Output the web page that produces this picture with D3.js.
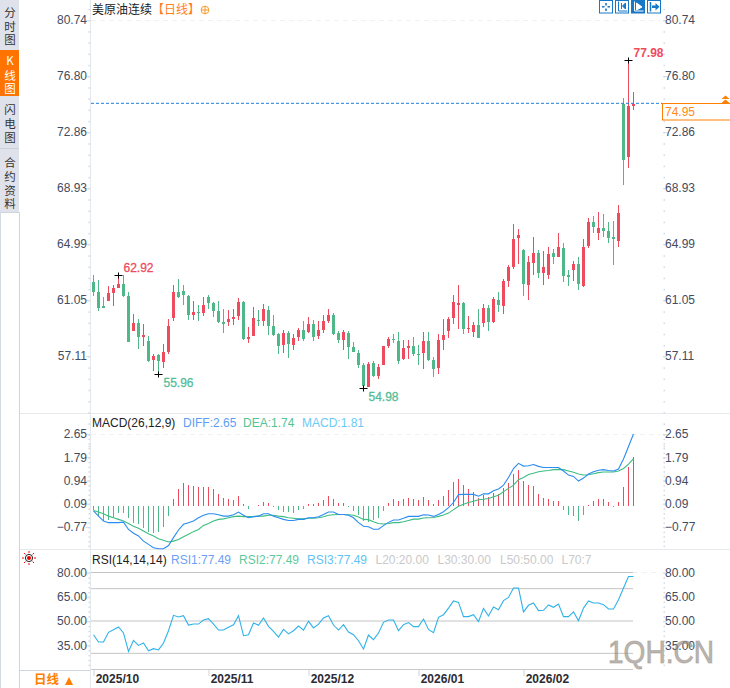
<!DOCTYPE html>
<html>
<head>
<meta charset="utf-8">
<style>
html, body { margin: 0; padding: 0; background: #fff; }
svg { display: block; font-family: "Liberation Sans", "Noto Sans CJK SC", sans-serif; font-size: 12px; }
</style>
<script src="https://cdnjs.cloudflare.com/ajax/libs/d3/7.8.5/d3.min.js"></script>
</head>
<body>
<script>
var W = 730, H = 688;

// daily candles
var open = [62.31,61.61,60.63,60.98,61.54,61.89,62.17,61.33,58.87,59.43,
  58.45,58.17,56.83,57.18,56.69,57.39,59.78,61.61,61.68,61.33,
  59.99,60.20,60.13,61.26,60.84,60.27,59.50,59.50,59.71,59.92,
  60.91,58.31,58.52,59.64,59.57,60.35,59.22,58.66,57.89,58.73,
  57.89,58.45,58.94,58.80,59.36,58.52,58.94,59.57,59.99,58.73,
  58.24,58.73,57.75,57.32,56.48,54.94,56.62,55.71,56.48,57.82,
  58.31,58.17,56.90,57.68,57.82,57.25,57.32,58.17,56.83,56.27,
  58.24,58.87,59.78,60.70,60.84,59.01,58.80,59.29,59.43,60.49,
  59.50,61.05,60.63,62.39,63.37,65.41,64.56,62.10,63.65,64.35,
  62.95,62.81,64.35,64.07,64.70,62.81,63.16,63.58,62.03,64.84,
  66.53,65.76,66.11,65.90,65.48,65.20,74.83,71.10,74.69];
var close = [61.61,60.49,60.49,61.54,61.89,62.17,61.33,58.10,59.43,58.45,
  58.59,56.76,57.11,56.76,57.39,59.22,61.61,61.26,61.40,59.99,
  60.20,60.13,60.70,60.84,60.27,59.50,59.36,59.71,59.85,60.91,
  58.31,58.45,59.78,59.57,60.42,59.22,58.59,57.82,58.73,57.96,
  58.38,58.94,58.31,59.36,58.45,58.94,59.57,59.99,58.66,58.24,
  58.80,57.75,57.39,56.48,55.01,56.55,55.71,56.34,57.82,58.31,
  58.24,56.76,57.68,57.82,57.25,57.18,58.17,56.83,56.20,58.24,
  58.59,59.71,60.91,60.84,59.01,59.08,59.29,58.38,60.49,59.50,
  61.12,60.70,62.39,63.37,65.34,65.62,62.17,63.72,64.35,62.95,
  63.37,64.28,64.07,64.77,62.74,62.67,63.58,62.17,64.77,66.53,
  66.18,66.11,65.90,65.41,65.34,67.17,70.89,74.69,74.83];
var high = [62.81,62.46,61.26,62.03,62.10,62.81,62.81,61.61,60.06,59.71,
  59.36,58.52,57.25,57.25,57.96,59.71,62.10,62.53,62.10,61.40,
  60.98,60.70,61.26,61.40,60.91,60.98,60.42,60.35,60.42,61.19,
  60.98,59.15,60.56,60.35,60.77,60.63,59.99,58.73,58.94,58.87,
  58.66,59.08,59.57,59.85,59.64,59.57,59.99,60.42,60.13,58.87,
  58.94,58.87,58.10,57.53,56.62,56.69,56.76,56.55,57.82,58.45,
  58.66,58.80,58.24,58.24,58.45,57.89,58.80,58.80,57.04,58.66,
  59.71,59.85,61.40,62.10,60.91,59.92,59.50,60.42,60.77,60.70,
  61.26,61.61,62.53,63.51,66.39,66.04,64.63,64.14,65.48,64.56,
  64.49,64.77,64.63,65.76,65.06,63.16,63.79,64.07,65.34,66.82,
  66.96,67.24,67.10,66.53,66.60,67.73,75.26,77.93,75.68];
var low = [61.33,60.27,60.49,60.98,60.63,61.89,61.26,58.10,58.87,57.61,
  57.82,56.69,56.06,55.85,56.27,57.25,59.57,61.19,60.70,59.64,
  59.64,59.57,59.92,60.42,59.85,59.43,58.73,59.22,59.29,59.64,
  58.24,58.03,58.52,59.22,59.22,58.59,58.52,57.25,57.32,56.97,
  57.53,58.17,58.17,58.73,58.17,58.31,58.73,59.43,58.59,58.03,
  57.53,56.90,57.39,56.27,54.87,54.94,55.64,55.50,56.48,57.68,
  58.03,56.55,56.83,56.90,57.11,56.48,56.20,56.76,55.64,55.85,
  57.53,58.38,59.36,59.01,58.66,58.73,58.45,58.38,59.15,58.87,
  59.43,60.20,60.06,61.96,63.23,63.58,61.33,61.05,62.81,62.60,
  62.10,62.53,63.58,64.07,62.31,62.03,62.39,61.75,61.96,64.70,
  65.76,65.27,65.48,65.06,63.51,64.77,69.12,70.33,74.41];

var diff = [-.18,-.37,-.55,-.61,-.61,-.61,-.59,-.86,-1.00,-1.10,
  -1.29,-1.41,-1.53,-1.57,-1.57,-1.45,-1.16,-.88,-.67,-.61,
  -.55,-.43,-.34,-.28,-.28,-.32,-.37,-.37,-.32,-.22,
  -.34,-.43,-.39,-.37,-.28,-.28,-.37,-.43,-.49,-.53,
  -.53,-.49,-.49,-.43,-.43,-.39,-.31,-.22,-.22,-.31,
  -.31,-.34,-.43,-.61,-.74,-.76,-.85,-.85,-.72,-.60,
  -.51,-.51,-.45,-.38,-.38,-.38,-.32,-.33,-.38,-.31,
  -.21,-.06,.13,.42,.43,.43,.43,.36,.45,.45,
  .56,.63,.77,1.05,1.38,1.57,1.47,1.48,1.53,1.46,
  1.42,1.42,1.42,1.42,1.29,1.14,1.09,.92,1.03,1.18,
  1.26,1.32,1.34,1.31,1.29,1.36,1.73,2.19,2.65];
var dea = [-.16,-.22,-.28,-.37,-.43,-.49,-.55,-.64,-.74,-.82,
  -.92,-1.02,-1.10,-1.20,-1.26,-1.32,-1.29,-1.23,-1.13,-1.04,
  -.94,-.86,-.71,-.64,-.55,-.49,-.47,-.43,-.39,-.37,
  -.39,-.39,-.39,-.37,-.37,-.34,-.34,-.37,-.39,-.43,
  -.45,-.47,-.47,-.45,-.45,-.43,-.39,-.34,-.32,-.31,
  -.31,-.32,-.34,-.40,-.49,-.50,-.58,-.64,-.66,-.64,
  -.61,-.61,-.58,-.53,-.48,-.48,-.44,-.43,-.42,-.38,
  -.33,-.26,-.13,-.01,.07,.13,.18,.23,.25,.28,
  .34,.40,.53,.65,.77,.97,1.05,1.16,1.21,1.26,
  1.29,1.31,1.34,1.35,1.34,1.29,1.24,1.18,1.14,1.15,
  1.19,1.23,1.25,1.25,1.25,1.29,1.38,1.54,1.74];
var macd = [-.15,-.37,-.55,-.53,-.39,-.27,-.27,-.43,-.61,-.67,
  -.80,-.96,-.98,-.96,-.76,-.37,.25,.61,.83,.76,
  .72,.70,.70,.70,.64,.43,.29,.25,.23,.36,
  .06,-.12,.02,.04,.16,.12,-.02,-.16,-.21,-.23,
  -.26,-.13,-.11,.06,.06,.10,.21,.36,.26,.13,
  .12,-.04,-.18,-.34,-.55,-.60,-.51,-.45,-.17,.11,
  .26,.18,.26,.29,.26,.22,.33,.22,.07,.22,
  .37,.59,.88,.99,.77,.62,.51,.29,.40,.33,
  .48,.44,.66,.85,1.18,1.32,.92,.77,.74,.44,
  .29,.26,.18,.18,-.15,-.33,-.37,-.55,-.33,.04,
  .18,.26,.26,.15,-.03,.15,.70,1.42,1.81];
var rsi = [41.5,37.0,37.0,43.0,44.6,46.3,42.6,31.2,38.0,34.9,
  36.4,31.6,32.9,32.1,36.4,44.0,53.5,52.5,53.3,47.5,
  48.1,48.1,50.6,51.4,48.1,44.4,44.4,46.1,47.7,53.3,
  40.9,41.5,48.8,47.3,51.9,46.7,43.6,40.1,44.8,42.0,
  44.0,46.9,44.4,49.8,45.7,48.1,51.9,53.3,47.5,44.4,
  47.7,43.2,41.5,37.8,32.7,41.3,38.5,42.6,49.2,50.6,
  50.6,44.0,47.7,49.0,46.5,46.5,51.2,44.8,42.8,52.3,
  53.9,58.0,62.4,61.5,52.7,52.7,53.9,49.6,57.8,53.1,
  58.7,57.0,62.6,64.6,70.4,70.4,55.6,59.7,61.1,56.4,
  56.6,59.9,58.5,60.5,52.7,52.7,55.6,50.2,58.0,62.4,
  61.1,61.1,60.1,57.4,57.4,63.2,70.4,77.49,77.49];

var priceTicks = [80.74, 76.80, 72.86, 68.93, 64.99, 61.05, 57.11];
var macdTicks = [2.65, 1.79, 0.94, 0.09, -0.77];
var rsiTicks = [80, 65, 50, 35];
var rsiLevels = [80, 70, 50, 30];
var dateLabels = ["2025/10", "2025/11", "2025/12", "2026/01", "2026/02"];
var dateIndex = [0, 23, 43, 65, 86];
var markIndex = [5, 13, 54, 107];
var markLabels = ["62.92", "55.96", "54.98", "77.98"];
var lastPrice = 74.88;
var lastLabel = "74.95";

var RED = "#ee4b5e", GREEN = "#4fb788", GRID = "#f0f1f1", LINE = "#e3e8ee", LABEL = "#444b60";

var svg = d3.select("body").append("svg").attr("width", W).attr("height", H);

var x = d3.scaleLinear().domain([0, 108]).range([93.5, 633.5]);
var yPrice = d3.scaleLinear().domain([80.74, 57.11]).range([20, 356]);
var yMacd = d3.scaleLinear().domain([2.65, -0.77]).range([434, 527]);
var yRsi = d3.scaleLinear().domain([80, 20]).range([572.5, 669.5]);

// side menu
svg.append("rect").attr("width", 19).attr("height", 212).attr("fill", "#e0e2eb");
svg.append("rect").attr("y", 50).attr("width", 19).attr("height", 46).attr("fill", "#ff7300");
svg.append("rect").attr("y", 148).attr("width", 19).attr("height", 1).attr("fill", "#c9d0d8");
svg.append("rect").attr("y", 212).attr("width", 1).attr("height", H - 212).attr("fill", "#d3dae2");
svg.append("rect").attr("x", 19).attr("y", 212).attr("width", 1).attr("height", H - 212).attr("fill", "#cdd5dd");
svg.append("rect").attr("y", 212).attr("width", 19).attr("height", 1).attr("fill", "#cdd5dd");
svg.append("rect").attr("x", 20).attr("y", 670).attr("width", 70).attr("height", 1).attr("fill", "#cdd5dd");

var menu = [["分", 13], ["时", 27], ["图", 40], ["K", 61], ["线", 76], ["图", 89], ["闪", 110], ["电", 124], ["图", 138],
  ["合", 163], ["约", 177], ["资", 191], ["料", 204]];
svg.append("g").selectAll("text").data(menu).enter().append("text")
  .attr("x", 10).attr("y", function(d) { return d[1]; }).attr("dy", "0.36em")
  .attr("text-anchor", "middle").attr("font-size", 11.5)
  .attr("font-family", "'Noto Sans CJK SC', sans-serif")
  .attr("fill", function(d) { return d[1] > 50 && d[1] < 96 ? "#fff" : "#333"; })
  .text(function(d) { return d[0]; });

// frame lines
svg.append("rect").attr("x", 90).attr("width", 1).attr("height", H).attr("fill", LINE);
[414, 550].forEach(function(y) {
  svg.append("rect").attr("x", 20).attr("y", y - 1).attr("width", W - 20).attr("height", 1).attr("fill", "#e8e9ec");
});
svg.append("rect").attr("x", 91).attr("y", 669).attr("width", 542).attr("height", 1).attr("fill", "#c8c8c8");

function topDash(y, x2) {
  svg.append("line").attr("x1", 91).attr("x2", x2).attr("y1", y + 0.5).attr("y2", y + 0.5)
    .attr("stroke", GRID).attr("stroke-dasharray", "5,4");
}
topDash(20, 660);
topDash(434, 660);
svg.append("line").attr("x1", 633).attr("x2", 660).attr("y1", 572.5).attr("y2", 572.5)
  .attr("stroke", GRID).attr("stroke-dasharray", "5,4");

function styleAxis(g) {
  g.select(".domain").remove();
  g.selectAll(".tick line").attr("stroke", "#d6dee6");
  g.selectAll("text").attr("fill", LABEL).attr("font-size", 12).attr("font-family", "'Liberation Sans', sans-serif");
}

// left and right scales of the three panes
function paneAxes(scale, ticks, fmt) {
  svg.append("g").attr("transform", "translate(90,0)")
    .call(d3.axisLeft(scale).tickValues(ticks).tickFormat(fmt).tickSize(4).tickPadding(-1))
    .call(styleAxis);
  svg.append("g").attr("transform", "translate(663,0)")
    .call(d3.axisRight(scale).tickValues(ticks).tickFormat(fmt).tickSize(4).tickPadding(-2))
    .call(styleAxis);
}
var f2 = d3.format(".2f");
paneAxes(yPrice, priceTicks, f2);
paneAxes(yMacd, macdTicks, f2);
paneAxes(yRsi, rsiTicks, f2);

// small dots between the labels
function dots(scale, vals) {
  [88.5, 663.5].forEach(function(px) {
    svg.append("g").selectAll("rect").data(vals).enter().append("rect")
      .attr("x", px).attr("y", function(d) { return scale(d); })
      .attr("width", 1.5).attr("height", 1.5).attr("fill", "#d2dae2");
  });
}
var step = (priceTicks[0] - priceTicks[1]) / 5;
dots(yPrice, d3.range(priceTicks[0] + step, 50, -step));
dots(yMacd, d3.range(2.65, -1.6, -0.855 / 5));
dots(yRsi, d3.range(80, 20, -3));

// candles
var idx = d3.range(open.length);
var candles = svg.append("g").attr("shape-rendering", "crispEdges");
function color(i) { return close[i] >= open[i] ? RED : GREEN; }
candles.selectAll("line").data(idx).enter().append("line")
  .attr("x1", function(i) { return x(i); }).attr("x2", function(i) { return x(i); })
  .attr("y1", function(i) { return yPrice(high[i]); }).attr("y2", function(i) { return yPrice(low[i]); })
  .attr("stroke", color);
candles.selectAll("rect").data(idx).enter().append("rect")
  .attr("x", function(i) { return x(i) - 1.5; }).attr("width", 3)
  .attr("y", function(i) { return yPrice(Math.max(open[i], close[i])); })
  .attr("height", function(i) { return Math.max(1, Math.abs(yPrice(open[i]) - yPrice(close[i]))); })
  .attr("fill", color);

// last price line and tag
svg.append("line").attr("x1", 91).attr("x2", 662).attr("y1", yPrice(lastPrice)).attr("y2", yPrice(lastPrice))
  .attr("stroke", "#1d7fe0").attr("stroke-dasharray", "3,2");
svg.append("rect").attr("x", 662.5).attr("y", 103.5).attr("width", 69).attr("height", 16.5)
  .attr("fill", "#fff").attr("stroke", "#ff8000");
svg.append("text").attr("x", 665).attr("y", 116).attr("fill", "#ff8a14").attr("font-size", 12).text(lastLabel);
svg.append("path").attr("d", "M721.5,99L725.5,95.5L729.5,99ZM721.5,103L725.5,99.5L729.5,103Z").attr("fill", "#ff7f00");

// high / low marks
var marks = svg.append("g");
markIndex.forEach(function(i, k) {
  var up = k == 0 || k == 3;
  var val = up ? high[i] : low[i];
  var mx = x(i), my = Math.round(yPrice(val)) + 0.5;
  var col = up ? RED : "#55bd98";
  marks.append("path").attr("d", "M" + (mx - 4) + "," + my + "H" + (mx + 4) + "M" + mx + "," + (my - 3) + "V" + (my + 3))
    .attr("stroke", "#000").attr("fill", "none");
  marks.append("text").attr("x", mx + 5).attr("y", my + (up ? -4 : 12))
    .attr("fill", col).attr("font-weight", k == 3 ? "bold" : "normal")
    .attr("stroke", k == 3 ? "none" : col).attr("stroke-width", 0.3)
    .attr("font-size", 12).text(markLabels[k]);
});

// title row
svg.append("text").attr("x", 92).attr("y", 14).attr("font-size", 12).attr("fill", "#222")
  .attr("font-family", "'Noto Sans CJK SC', sans-serif").text("美原油连续");
svg.append("text").attr("x", 152).attr("y", 14).attr("font-size", 12).attr("fill", "#ff7f1e")
  .attr("font-family", "'Noto Sans CJK SC', sans-serif").text("【日线】");
svg.append("circle").attr("cx", 205).attr("cy", 10).attr("r", 3.8).attr("fill", "none").attr("stroke", "#f59a2e");
svg.append("path").attr("d", "M201,10H209M205,6V14").attr("stroke", "#f59a2e").attr("fill", "none");

// toolbar
var BLUE = "#1878c8";
[599.5, 615.5, 631.5, 647.5].forEach(function(bx, k) {
  var g = svg.append("g").attr("transform", "translate(" + bx + ",0.5)");
  g.append("rect").attr("width", 13).attr("height", 12.5).attr("stroke", BLUE).attr("fill", k == 2 ? BLUE : "#fff");
  var c = k == 2 ? "#fff" : BLUE;
  if (k == 0) {
    g.append("path").attr("d", "M6.5,2.5V5M6.5,8V10.5M2.5,6.3H5M8,6.3H10.5").attr("stroke", c).attr("stroke-width", 1.6);
  } else if (k == 3) {
    g.append("path").attr("d", "M3,1.5V11").attr("stroke", c).attr("stroke-width", 1.5);
    g.append("path").attr("d", "M4.5,5H8V2.5L12,6.3L8,10V7.5H4.5Z").attr("fill", c);
  } else {
    g.append("path").attr("d", "M3,1V10.5H12").attr("stroke", c).attr("fill", "none");
    g.append("path").attr("d", k == 1 ? "M6,2.5V8.5M7,5.5L10,2.5V8.5Z" : "M5,2.5L10.5,6.5L5,9.5Z").attr("fill", c).attr("stroke", c);
  }
});

// MACD pane
svg.append("g").attr("shape-rendering", "crispEdges").selectAll("line").data(idx).enter().append("line")
  .attr("x1", function(i) { return x(i); }).attr("x2", function(i) { return x(i); })
  .attr("y1", yMacd(0)).attr("y2", function(i) { return yMacd(macd[i]); })
  .attr("stroke", function(i) { return macd[i] >= 0 ? RED : GREEN; });
function drawLine(scale, vals, col) {
  var line = d3.line().x(function(d, i) { return x(i); }).y(function(d) { return scale(d); });
  svg.append("path").datum(vals).attr("d", line).attr("fill", "none").attr("stroke", col).attr("stroke-width", 1.1);
}
drawLine(yMacd, dea, "#3cbc80");
drawLine(yMacd, diff, "#2b8cf2");

function legend(y, items) {
  svg.append("g").selectAll("text").data(items).enter().append("text")
    .attr("x", function(d) { return d[1]; }).attr("y", y).attr("fill", function(d) { return d[2]; })
    .attr("font-size", 12).text(function(d) { return d[0]; });
}
legend(427, [["MACD(26,12,9)", 92, "#222"], ["DIFF:2.65", 183, "#5e9df5"], ["DEA:1.74", 243, "#52c391"], ["MACD:1.81", 302, "#6cc9f7"]]);

// RSI pane
svg.append("g").selectAll("line").data(rsiLevels).enter().append("line")
  .attr("x1", 91).attr("x2", 633)
  .attr("y1", function(d) { return yRsi(d); }).attr("y2", function(d) { return yRsi(d); })
  .attr("stroke", "#c4c4c4");
drawLine(yRsi, rsi, "#2fb2e8");
legend(564, [["RSI(14,14,14)", 92, "#222"], ["RSI1:77.49", 171, "#6d9ff7"], ["RSI2:77.49", 239, "#5fc99b"], ["RSI3:77.49", 307, "#5fc3f2"],
  ["L20:20.00", 375.5, "#c9c9c9"], ["L30:30.00", 437.5, "#c9c9c9"], ["L50:50.00", 500, "#c9c9c9"], ["L70:7", 561.5, "#c9c9c9"]]);

// sun icon
var sun = svg.append("g").attr("transform", "translate(29,558)");
sun.append("path").attr("d", "M0,-7V-5M0,5V7M-7,0H-5M5,0H7M-5,-5L-3.6,-3.6M5,-5L3.6,-3.6M-5,5L-3.6,3.6M5,5L3.6,3.6").attr("stroke", "#f00");
sun.append("circle").attr("r", 3.6).attr("fill", "#fff").attr("stroke", "#222");
sun.append("circle").attr("r", 2).attr("fill", "#e00");

// dates
var dates = svg.append("g");
dates.selectAll("line").data(dateIndex).enter().append("line")
  .attr("x1", function(i) { return x(i) + 0.5; }).attr("x2", function(i) { return x(i) + 0.5; })
  .attr("y1", 670).attr("y2", 676).attr("stroke", "#ccd3da");
dates.selectAll("text").data(dateIndex).enter().append("text")
  .attr("x", function(i) { return x(i) + 2.2; }).attr("y", 683)
  .attr("font-weight", "bold").attr("font-size", 12).attr("fill", "#2b2b33")
  .text(function(i, k) { return dateLabels[k]; });

svg.append("text").attr("x", 34).attr("y", 684).attr("font-size", 12.5).attr("font-weight", "bold").attr("fill", "#ff7f00")
  .attr("font-family", "'Noto Sans CJK SC', sans-serif").text("日线");
svg.append("path").attr("d", "M65,685L69,677L73,685Z").attr("fill", "#ff7f00");

// watermark
svg.append("text").attr("x", 608).attr("y", 663).attr("font-size", 32).attr("textLength", 106)
  .attr("lengthAdjust", "spacingAndGlyphs").attr("fill", "rgba(150,140,132,0.65)")
  .attr("stroke", "rgba(150,140,132,0.45)").attr("stroke-width", 1.2).text("1QH.CN");
</script>
</body>
</html>
